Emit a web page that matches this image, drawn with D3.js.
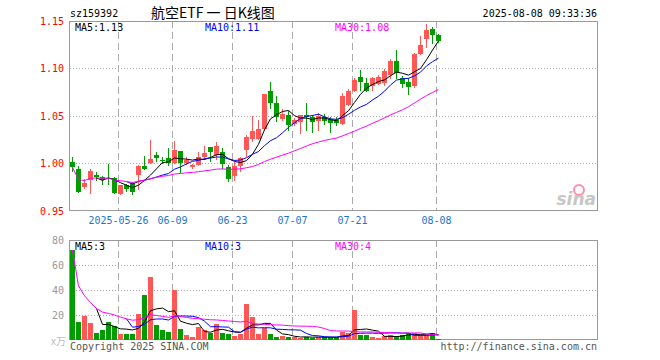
<!DOCTYPE html>
<html>
<head>
<meta charset="utf-8">
<script src="https://cdn.jsdelivr.net/npm/d3@7"></script>
<style>
  body { margin: 0; background: #fff; }
  svg { display: block; }
</style>
</head>
<body>
<div id="chart"></div>
<script>
// trading days shown on the chart
const dates = [
  "2025-05-14","2025-05-15","2025-05-16","2025-05-19","2025-05-20","2025-05-21","2025-05-22","2025-05-23",
  "2025-05-26","2025-05-27","2025-05-28","2025-05-29","2025-05-30","2025-06-03","2025-06-04","2025-06-05",
  "2025-06-06","2025-06-09","2025-06-10","2025-06-11","2025-06-12","2025-06-13","2025-06-16","2025-06-17",
  "2025-06-18","2025-06-19","2025-06-20","2025-06-23","2025-06-24","2025-06-25","2025-06-26","2025-06-27",
  "2025-06-30","2025-07-01","2025-07-02","2025-07-03","2025-07-04","2025-07-07","2025-07-08","2025-07-09",
  "2025-07-10","2025-07-11","2025-07-14","2025-07-15","2025-07-16","2025-07-17","2025-07-18","2025-07-21",
  "2025-07-22","2025-07-23","2025-07-24","2025-07-25","2025-07-28","2025-07-29","2025-07-30","2025-07-31",
  "2025-08-01","2025-08-04","2025-08-05","2025-08-06","2025-08-07","2025-08-08"
];

const opens = [
  1.002,0.994,0.975,0.983,0.988,0.986,0.985,0.985,0.968,0.977,
  0.979,0.988,0.997,1.001,1.009,1.004,1.006,1.001,1.013,1.001,
  0.996,0.998,1.007,1.017,1.009,1.012,0.996,0.987,0.997,1.014,
  1.026,1.026,1.036,1.076,1.064,1.047,1.051,1.042,1.044,1.051,
  1.049,1.045,1.049,1.047,1.046,1.042,1.062,1.076,1.091,1.085,
  1.082,1.084,1.085,1.093,1.108,1.090,1.086,1.082,1.115,1.131,
  1.142,1.135
];
const highs = [
  1.007,0.997,0.984,0.994,0.991,0.987,0.999,0.986,0.977,0.978,
  0.981,0.998,1.008,1.025,1.012,1.007,1.016,1.024,1.013,1.007,
  1.000,1.012,1.018,1.017,1.023,1.016,0.998,1.002,1.007,1.030,
  1.050,1.046,1.073,1.086,1.071,1.057,1.055,1.048,1.051,1.064,
  1.051,1.053,1.052,1.049,1.049,1.074,1.078,1.090,1.098,1.090,
  1.091,1.093,1.099,1.110,1.119,1.092,1.090,1.116,1.134,1.147,
  1.144,1.136
];
const lows = [
  0.991,0.969,0.973,0.968,0.982,0.977,0.977,0.968,0.967,0.970,
  0.967,0.972,0.993,1.000,1.002,1.000,0.997,1.000,0.990,0.998,
  0.994,0.997,1.004,1.002,1.004,0.994,0.981,0.982,0.991,1.007,
  1.023,1.025,1.035,1.057,1.044,1.045,1.034,1.039,1.031,1.034,
  1.032,1.034,1.041,1.032,1.039,1.041,1.061,1.075,1.076,1.075,
  1.076,1.083,1.082,1.089,1.089,1.080,1.072,1.080,1.114,1.122,
  1.126,1.127
];
const closes = [
  0.996,0.970,0.980,0.992,0.986,0.983,0.984,0.969,0.977,0.973,
  0.970,0.997,0.994,1.005,1.006,1.003,1.001,1.014,1.001,1.004,
  0.998,1.007,1.011,1.012,1.018,1.000,0.984,0.997,1.006,1.028,
  1.034,1.036,1.073,1.064,1.049,1.052,1.041,1.046,1.051,1.049,
  1.044,1.050,1.045,1.043,1.043,1.071,1.076,1.088,1.086,1.076,
  1.090,1.091,1.097,1.108,1.095,1.084,1.081,1.115,1.125,1.141,
  1.135,1.129
];
// volume, in 万
const volumes = [
  72,14.7,19.5,13.9,5.9,8,14.7,11.2,4.8,4.8,
  4.8,20.8,36.3,50.7,12,8,6.4,40,8.8,4,
  2.4,10.7,8,5.9,12.8,5.3,4.8,3.2,4.8,28.8,
  18.7,4.8,9.3,4.8,2.1,3.2,2.1,2.7,1.9,2.7,
  1.9,2.7,2.1,2.1,2.1,6.7,5.3,24,4,4,
  2.1,1.3,3.2,4,3.2,4,5.3,5.9,4,4,
  5.9,0.8
];

const tickDates = ["2025-05-26","2025-06-09","2025-06-23","2025-07-07","2025-07-21","2025-08-08"];
const tickLabels = ["2025-05-26","06-09","06-23","07-07","07-21","08-08"];
const priceTicks = [0.95, 1.00, 1.05, 1.10, 1.15];
const volTicks = [20, 40, 60, 80];
const priceMaLabels = ["MA5:1.13", "MA10:1.11", "MA30:1.08"];
const volMaLabels = ["MA5:3", "MA10:3", "MA30:4"];
const totalSlots = 88;

const width = 660, height = 360;
const plotLeft = 70, plotRight = 598;
const priceTop = 21, priceBottom = 211;
const volTop = 240, volBottom = 340;

const red = "#ff5656", green = "#009c00";
const maColors = ["#000000", "#0000ff", "#ff00ff"];
const mono = "'DejaVu Sans Mono', monospace";

const x = d3.scaleLinear().domain([0, totalSlots]).range([plotLeft, plotRight]);
const barW = x(1) - x(0) - 1;
const cx = i => x(i) + barW / 2;

const y = d3.scaleLinear().domain([0.95, 1.15]).range([priceBottom, priceTop]);
const yv = d3.scaleLinear().domain([0, 80]).range([volBottom, volTop]);

const svg = d3.select("#chart").append("svg")
    .attr("width", width)
    .attr("height", height)
    .style("font-family", mono)
    .style("font-size", "10px");

// moving average; partial=true averages what is available at the start
function movingAvg(vals, n, partial) {
  return vals.map((v, i) => {
    if (i < n - 1 && !partial) return null;
    return d3.mean(vals.slice(Math.max(0, i - n + 1), i + 1));
  });
}

const tickIdx = tickDates.map(d => dates.indexOf(d));

// header
svg.append("text").attr("x", 70).attr("y", 17).attr("fill", "#000").text("sz159392");
svg.append("text").attr("x", 151).attr("y", 18)
    .style("font-family", "'Noto Sans CJK SC', sans-serif").style("font-size", "14px")
    .style("white-space", "pre")
    .attr("fill", "#000").text("航空ETF 一 日K线图");
svg.append("text").attr("x", 597).attr("y", 17).attr("text-anchor", "end")
    .attr("fill", "#000").text("2025-08-08 09:33:36");

function panelFrame(top, bottom, gridVals, scale) {
  const g = svg.append("g");
  g.selectAll("line.h").data(gridVals).join("line")
      .attr("x1", plotLeft).attr("x2", plotRight)
      .attr("y1", d => Math.round(scale(d)) + 0.5).attr("y2", d => Math.round(scale(d)) + 0.5)
      .attr("stroke", "#aaa").attr("stroke-dasharray", "1,2");
  g.selectAll("line.v").data(tickIdx).join("line")
      .attr("x1", d => x(d) + 0.5).attr("x2", d => x(d) + 0.5)
      .attr("y1", top).attr("y2", bottom)
      .attr("stroke", "#aaa").attr("stroke-dasharray", "7,4");
  g.append("rect")
      .attr("x", plotLeft - 0.5).attr("y", top + 0.5)
      .attr("width", plotRight - plotLeft).attr("height", bottom - top - 1)
      .attr("fill", "none").attr("stroke", "#999");
}

panelFrame(priceTop, priceBottom, [1.00, 1.05, 1.10], y);
panelFrame(volTop, volBottom, [20, 40, 60], yv);

// sina watermark
const logo = svg.append("g").attr("opacity", 0.55);
logo.append("circle").attr("cx", 579).attr("cy", 190).attr("r", 5)
    .attr("fill", "none").attr("stroke", "#f36").attr("stroke-width", 2);
logo.append("text").attr("x", 596).attr("y", 205).attr("text-anchor", "end")
    .style("font-family", "'DejaVu Sans', sans-serif").style("font-size", "17px")
    .style("font-weight", "bold").style("font-style", "italic")
    .attr("fill", "#999").text("sina");

// price axis labels
svg.append("g")
    .attr("transform", `translate(${plotLeft - 3},0)`)
    .call(d3.axisLeft(y).tickValues(priceTicks).tickSize(0).tickFormat(d3.format(".2f")))
    .call(g => g.select(".domain").remove())
    .call(g => g.selectAll("text").attr("fill", "#f00").style("font-family", mono).style("font-size", "10px"));

// volume axis labels
svg.append("g")
    .attr("transform", `translate(${plotLeft - 3},0)`)
    .call(d3.axisLeft(yv).tickValues(volTicks).tickSize(0))
    .call(g => g.select(".domain").remove())
    .call(g => g.selectAll("text").attr("fill", "#999").style("font-family", mono).style("font-size", "10px"));
svg.append("text").attr("x", 66).attr("y", 345).attr("text-anchor", "end")
    .style("font-family", "'Noto Sans CJK SC', sans-serif").style("font-size", "10px")
    .attr("fill", "#bbb").text("x万");

// date labels
svg.append("g")
    .attr("transform", `translate(0,${priceBottom + 3})`)
    .call(d3.axisBottom(x).tickValues(tickIdx).tickSize(0).tickFormat((d, i) => tickLabels[i]))
    .call(g => g.select(".domain").remove())
    .call(g => g.selectAll("text").attr("fill", "#1a73d0").style("font-family", mono).style("font-size", "10px"));

// candles
const idx = d3.range(dates.length);
const candles = svg.append("g").attr("shape-rendering", "crispEdges");
candles.selectAll("line").data(idx).join("line")
    .attr("x1", i => cx(i)).attr("x2", i => cx(i))
    .attr("y1", i => y(highs[i])).attr("y2", i => y(lows[i]))
    .attr("stroke", i => closes[i] >= opens[i] ? red : green);
candles.selectAll("rect").data(idx).join("rect")
    .attr("x", i => x(i))
    .attr("width", barW)
    .attr("y", i => y(Math.max(opens[i], closes[i])))
    .attr("height", i => Math.max(1, Math.abs(y(opens[i]) - y(closes[i]))))
    .attr("fill", i => closes[i] >= opens[i] ? red : green);

// volume bars
svg.append("g").attr("shape-rendering", "crispEdges")
  .selectAll("rect").data(idx).join("rect")
    .attr("x", i => x(i))
    .attr("width", barW)
    .attr("y", i => yv(volumes[i]))
    .attr("height", i => yv(0) - yv(volumes[i]))
    .attr("fill", i => closes[i] >= opens[i] ? red : green);

// moving average lines
function drawMa(vals, scale) {
  const series = [movingAvg(vals, 5, false), movingAvg(vals, 10, false), movingAvg(vals, 30, true)];
  const line = d3.line()
      .defined(d => d != null)
      .x((d, i) => cx(i))
      .y(d => scale(d));
  svg.append("g").selectAll("path").data(series).join("path")
      .attr("fill", "none")
      .attr("stroke", (d, i) => maColors[i])
      .attr("stroke-width", 1)
      .attr("d", line);
}
drawMa(closes, y);
drawMa(volumes, yv);

// MA legends
const legendX = [75, 205, 335];
svg.append("g").selectAll("text").data(priceMaLabels).join("text")
    .attr("x", (d, i) => legendX[i]).attr("y", 31)
    .attr("fill", (d, i) => maColors[i]).text(d => d);
svg.append("g").selectAll("text").data(volMaLabels).join("text")
    .attr("x", (d, i) => legendX[i]).attr("y", 250)
    .attr("fill", (d, i) => maColors[i]).text(d => d);

// footer
svg.append("text").attr("x", 70).attr("y", 350).attr("fill", "#555").text("Copyright 2025 SINA.COM");
svg.append("text").attr("x", 597).attr("y", 350).attr("text-anchor", "end")
    .attr("fill", "#555").text("http://finance.sina.com.cn");
</script>
</body>
</html>
